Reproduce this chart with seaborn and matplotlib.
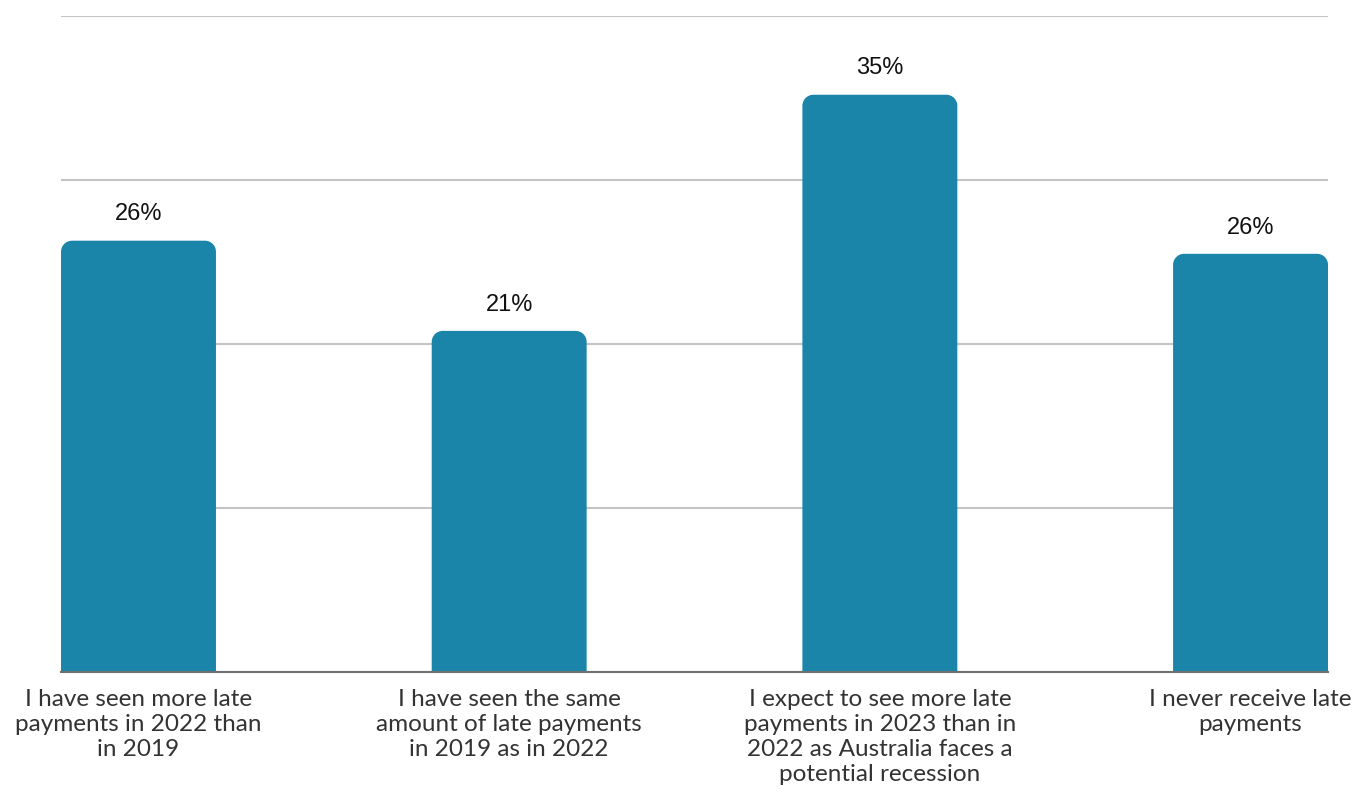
import matplotlib
matplotlib.use("Agg")
import matplotlib.pyplot as plt
import seaborn as sns
import pandas as pd
from matplotlib.path import Path
from matplotlib.patches import PathPatch

categories = [
    "I have seen more late\npayments in 2022 than\nin 2019",
    "I have seen the same\namount of late payments\nin 2019 as in 2022",
    "I expect to see more late\npayments in 2023 than in\n2022 as Australia faces a\npotential recession",
    "I never receive late\npayments",
]
values = [26.3, 20.8, 35.2, 25.5]
value_labels = ["26%", "21%", "35%", "26%"]
yticks = [0, 10, 20, 30, 40]

BAR_COLOR = "#1a85a8"


def rounded_top_path(x0, y0, w, h, rx, ry):
    # bar outline with rounded top corners, square bottom
    k = 0.5523
    x1, y1 = x0 + w, y0 + h
    verts = [
        (x0, y0), (x1, y0), (x1, y1 - ry),
        (x1, y1 - ry + k * ry), (x1 - rx + k * rx, y1), (x1 - rx, y1),
        (x0 + rx, y1),
        (x0 + rx - k * rx, y1), (x0, y1 - ry + k * ry), (x0, y1 - ry),
        (x0, y0),
    ]
    codes = [Path.MOVETO, Path.LINETO, Path.LINETO,
             Path.CURVE4, Path.CURVE4, Path.CURVE4,
             Path.LINETO,
             Path.CURVE4, Path.CURVE4, Path.CURVE4,
             Path.CLOSEPOLY]
    return Path(verts, codes)


def main():
    sns.set_theme(style="white")
    plt.rcParams["font.family"] = ["Lato", "DejaVu Sans"]

    df = pd.DataFrame({"cat": categories, "val": values})

    fig = plt.figure(figsize=(13.59, 7.89), dpi=100)
    ax = fig.add_axes([0.0449, 0.1483, 0.9323, 0.8314])

    sns.barplot(data=df, x="cat", y="val", color=BAR_COLOR, saturation=1,
                width=0.418, ax=ax, zorder=3)

    ax.set_ylim(0, 40)
    ax.set_xlim(-0.209, 3.209)
    ax.set_yticks(yticks)
    ax.yaxis.grid(True, color="#c4c4c4", linewidth=1.5, zorder=0)
    ax.set_axisbelow(True)
    for s in ["top", "right", "left"]:
        ax.spines[s].set_visible(False)
    ax.spines["bottom"].set_color("#707070")
    ax.spines["bottom"].set_linewidth(1.5)
    ax.spines["bottom"].set_zorder(4)
    ax.tick_params(axis="y", left=False, labelleft=False)
    ax.tick_params(axis="x", bottom=False, pad=6)
    ax.set_xlabel("")
    ax.set_ylabel("")
    for lbl in ax.get_xticklabels():
        lbl.set_fontsize(17.5)
        lbl.set_color("#333333")
        lbl.set_linespacing(1.25)
        lbl.set_verticalalignment("top")

    # rounded top corners: radius in pixels converted to data units
    fig.canvas.draw()
    bbox = ax.get_window_extent()
    r_px = 11
    rx = r_px * 3.418 / bbox.width
    ry = r_px * 40 / bbox.height
    for p in list(ax.patches):
        x0, y0 = p.get_x(), p.get_y()
        w, h = p.get_width(), p.get_height()
        p.set_visible(False)
        ax.add_patch(PathPatch(rounded_top_path(x0, y0, w, h, rx, ry),
                               facecolor=BAR_COLOR, edgecolor="none", zorder=3))

    for i, (v, lab) in enumerate(zip(values, value_labels)):
        ax.annotate(lab, (i, v), xytext=(0, 11), textcoords="offset points",
                    ha="center", va="bottom", fontsize=17,
                    family=["Liberation Sans", "DejaVu Sans"], color="#111111")

    fig.savefig("out.png", dpi=100)
    plt.close(fig)


if __name__ == "__main__":
    main()
